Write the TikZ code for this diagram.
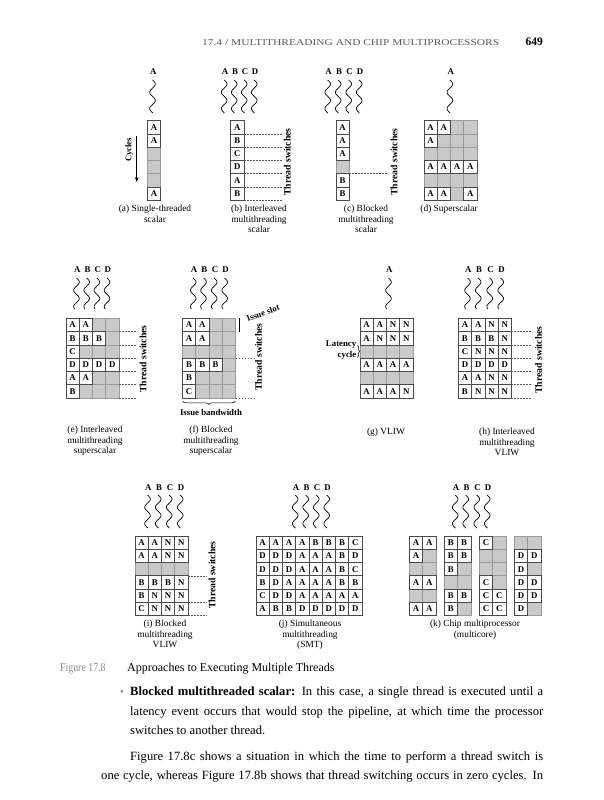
\documentclass[tikz,border=0pt]{standalone}
\usepackage{fontspec}
\usepackage{graphicx}
\setmainfont{Liberation Serif}
\usetikzlibrary{decorations.pathreplacing,arrows.meta}
\definecolor{cellgray}{HTML}{C9C9C9}
\definecolor{gline}{HTML}{9B9B9B}
\definecolor{wline}{HTML}{4A4A4A}
\definecolor{headgray}{HTML}{5A5A5A}
\definecolor{figgray}{HTML}{8A8A8A}
\newcommand{\cellw}{13.25}
\tikzset{
  gcell/.style={fill=cellgray, draw=gline, line width=0.6pt},
  wcell/.style={fill=white, draw=wline, line width=0.6pt},
  cellt/.style={font=\fontsize{8.8}{9}\selectfont\bfseries, inner sep=0pt, anchor=center},
  thrl/.style={font=\fontsize{8.8}{9}\selectfont\bfseries, inner sep=0pt},
  wavy/.style={line width=0.7pt},
  dline/.style={draw=black!65, line width=0.5pt, dash pattern=on 1.6pt off 1.4pt},
  tsw/.style={font=\fontsize{9.7}{10}\selectfont\bfseries, rotate=90, inner sep=0pt},
  capt/.style={font=\fontsize{9.4}{10}\selectfont, inner sep=0pt, anchor=base},
  lbl/.style={font=\fontsize{8.8}{10}\selectfont\bfseries, inner sep=0pt},
  body/.style={font=\fontsize{12.6}{14}\selectfont, inner sep=0pt, anchor=base west},
}
\newcommand{\mygrid}[4]{%
  \foreach \rw [count=\ri] in {#4} {
    \foreach \cc [count=\ki] in \rw {
      \if\cc g
        \path[gcell] ({#2+(\ki-1)*\cellw},{#3+(\ri-1)*\cellw}) rectangle ++(\cellw,\cellw);
      \fi
    }
  }
  \foreach \rw [count=\ri] in {#4} {
    \foreach \cc [count=\ki] in \rw {
      \if\cc g\else
        \path[wcell] ({#2+(\ki-1)*\cellw},{#3+(\ri-1)*\cellw}) rectangle ++(\cellw,\cellw);
        \node[cellt] (#1-\ri-\ki) at ({#2+(\ki-0.5)*\cellw},{#3+(\ri-0.5)*\cellw}) {\cc};
      \fi
    }
  }
}
\newcommand{\thrd}[6]{% name, x, label y, letter, wave y, wave length
  \node[thrl] (#1) at (#2,#3) {#4};
  \draw[wavy] plot[variable=\t, domain=0:#6, samples=70, smooth] ({#2-0.8+2.8*sin(\t*22)},{#5+\t});
}
\begin{document}
\begin{tikzpicture}[x=1pt,y=-1pt]
\useasboundingbox (0,0) rectangle (604,800);
\fill[white] (0,0) rectangle (604,800);

% header
\node[anchor=base west, inner sep=0pt, text=headgray] (hdr) at (202,46)
  {\scalebox{1.27}[1]{\fontsize{9}{9}\selectfont 17.4 / MULTITHREADING AND CHIP MULTIPROCESSORS}};
\node[anchor=base east, inner sep=0pt, font=\fontsize{11.5}{12}\selectfont\bfseries] (pg) at (543,46) {649};

% ===== Row 1 =====
% (a)
\thrd{a-A}{153.3}{72}{A}{80}{33}
\mygrid{a}{147.4}{120.7}{{A},{A},{g},{g},{g},{A}}
\coordinate (cyc1) at (136.7,136);
\coordinate (cyc2) at (136.7,182);
\draw[line width=0.8pt, -{Stealth[length=5pt,width=3.6pt]}] (cyc1) -- (cyc2);
\node[tsw, font=\fontsize{8.6}{10}\selectfont\bfseries] (cycles) at (129.3,150) {Cycles};
\node[capt] (capa1) at (155,211.5) {(a) Single-threaded};
\node[capt] (capa2) at (155,222) {scalar};

% (b)
\thrd{b-A}{225}{72}{A}{80}{33}
\thrd{b-B}{235}{72}{B}{80}{33}
\thrd{b-C}{245}{72}{C}{80}{33}
\thrd{b-D}{255}{72}{D}{80}{33}
\mygrid{b}{230.7}{120.7}{{A},{B},{C},{D},{A},{B}}
\foreach \k in {1,...,6} \draw[dline] (244,{120.7+\k*\cellw}) -- (282,{120.7+\k*\cellw});
\node[tsw] (tsb) at (287.3,162) {Thread switches};
\node[capt] (capb1) at (259,211.5) {(b) Interleaved};
\node[capt] (capb2) at (259,222) {multithreading};
\node[capt] (capb3) at (259,232.5) {scalar};

% (c)
\thrd{c-A}{328.5}{72}{A}{80}{33}
\thrd{c-B}{339}{72}{B}{80}{33}
\thrd{c-C}{349.5}{72}{C}{80}{33}
\thrd{c-D}{360}{72}{D}{80}{33}
\mygrid{c}{336}{120.7}{{A},{A},{A},{g},{B},{B}}
\draw[dline] (349.3,{120.7+4*\cellw}) -- (387,{120.7+4*\cellw});
\node[tsw] (tsc) at (394,162) {Thread switches};
\node[capt] (capc1) at (366,211.5) {(c) Blocked};
\node[capt] (capc2) at (366,222) {multithreading};
\node[capt] (capc3) at (366,232.5) {scalar};

% (d)
\thrd{d-A}{450.7}{72}{A}{80}{33}
\mygrid{d}{424}{120.7}{{A,A,g,g},{A,g,g,g},{g,g,g,g},{A,A,A,A},{g,g,g,g},{A,A,g,A}}
\node[capt] (capd1) at (449,211.5) {(d) Superscalar};

% ===== Row 2 =====
% (e)
\thrd{e-A}{77.3}{270}{A}{278}{31}
\thrd{e-B}{87.5}{270}{B}{278}{31}
\thrd{e-C}{97.7}{270}{C}{278}{31}
\thrd{e-D}{107.8}{270}{D}{278}{31}
\mygrid{e}{66}{318.3}{{A,A,g,g},{B,B,B,g},{C,g,g,g},{D,D,D,D},{A,A,g,g},{B,g,g,g}}
\foreach \k in {1,...,6} \draw[dline] (119,{318.3+\k*\cellw}) -- (137,{318.3+\k*\cellw});
\node[tsw] (tse) at (143,359) {Thread switches};
\node[capt] (cape1) at (95,432.5) {(e) Interleaved};
\node[capt] (cape2) at (95,443) {multithreading};
\node[capt] (cape3) at (95,453.5) {superscalar};

% (f)
\thrd{f-A}{194}{270}{A}{278}{31}
\thrd{f-B}{204.3}{270}{B}{278}{31}
\thrd{f-C}{215}{270}{C}{278}{31}
\thrd{f-D}{225.5}{270}{D}{278}{31}
\mygrid{f}{182.5}{318.3}{{A,A,g,g},{A,A,g,g},{g,g,g,g},{B,B,B,g},{B,g,g,g},{C,g,g,g}}
\foreach \k in {3,6} \draw[dline] (235.5,{318.3+\k*\cellw}) -- (254,{318.3+\k*\cellw});
\node[tsw] (tsf) at (258.5,357) {Thread switches};
\coordinate (slot1) at (239.5,317.5);
\coordinate (slot2) at (239.5,331.5);
\draw[line width=0.5pt] (slot1) -- (slot2);
\node[lbl, rotate=20] (islot) at (263,313) {Issue slot};
\coordinate (bw1) at (235.5,401);
\coordinate (bw2) at (182.5,401);
\draw[line width=0.5pt, decorate, decoration={brace, amplitude=3.5pt}] (bw1) -- (bw2);
\node[lbl, anchor=base] (ibw) at (211,415) {Issue bandwidth};
\node[capt] (capf1) at (211,432.5) {(f) Blocked};
\node[capt] (capf2) at (211,443) {multithreading};
\node[capt] (capf3) at (211,453.5) {superscalar};

% (g)
\thrd{g-A}{389.3}{270}{A}{278}{31}
\mygrid{g}{360}{318.3}{{A,A,N,N},{A,N,N,N},{g,g,g,g},{A,A,A,A},{g,g,g,g},{A,A,A,N}}
\node[lbl, anchor=east] (lat1) at (356.5,345) {Latency};
\node[lbl, anchor=east] (lat2) at (356.5,355.5) {cycle};
\coordinate (lb1) at (357.5,345);
\coordinate (lb2) at (357.5,357.5);
\draw[line width=0.5pt, decorate, decoration={brace, amplitude=2pt}] (lb1) -- (lb2);
\node[capt] (capg1) at (386,434.5) {(g) VLIW};

% (h)
\thrd{h-A}{468.3}{270}{A}{278}{31}
\thrd{h-B}{479}{270}{B}{278}{31}
\thrd{h-C}{490.5}{270}{C}{278}{31}
\thrd{h-D}{501.5}{270}{D}{278}{31}
\mygrid{h}{458.3}{318.3}{{A,A,N,N},{B,B,B,N},{C,N,N,N},{D,D,D,D},{A,A,N,N},{B,N,N,N}}
\foreach \k in {1,...,6} \draw[dline] (511.3,{318.3+\k*\cellw}) -- (531,{318.3+\k*\cellw});
\node[tsw] (tsh) at (538.5,360) {Thread switches};
\node[capt] (caph1) at (507,434.5) {(h) Interleaved};
\node[capt] (caph2) at (507,445) {multithreading};
\node[capt] (caph3) at (507,455.5) {VLIW};

% ===== Row 3 =====
% (i)
\thrd{i-A}{148.3}{487.5}{A}{495}{33}
\thrd{i-B}{159}{487.5}{B}{495}{33}
\thrd{i-C}{170}{487.5}{C}{495}{33}
\thrd{i-D}{181}{487.5}{D}{495}{33}
\mygrid{i}{135}{536}{{A,A,N,N},{A,A,N,N},{g,g,g,g},{B,B,B,N},{B,N,N,N},{C,N,N,N}}
\foreach \k in {3,5,6} \draw[dline] (188,{536+\k*\cellw}) -- (207,{536+\k*\cellw});
\node[tsw] (tsi) at (212,575) {Thread switches};
\node[capt] (capi1) at (165,626.5) {(i) Blocked};
\node[capt] (capi2) at (165,637) {multithreading};
\node[capt] (capi3) at (165,647.5) {VLIW};

% (j)
\thrd{j-A}{296}{487.5}{A}{495}{33}
\thrd{j-B}{306.5}{487.5}{B}{495}{33}
\thrd{j-C}{317}{487.5}{C}{495}{33}
\thrd{j-D}{327.5}{487.5}{D}{495}{33}
\mygrid{j}{256}{536}{{A,A,A,A,B,B,B,C},{D,D,D,A,A,A,B,D},{D,D,D,A,A,A,B,C},{B,D,A,A,A,A,B,B},{C,D,D,A,A,A,A,A},{A,B,B,D,D,D,D,D}}
\node[capt] (capj1) at (310,626.5) {(j) Simultaneous};
\node[capt] (capj2) at (310,637) {multithreading};
\node[capt] (capj3) at (310,647.5) {(SMT)};

% (k)
\thrd{k-A}{456}{487.5}{A}{495}{33}
\thrd{k-B}{466.5}{487.5}{B}{495}{33}
\thrd{k-C}{477.5}{487.5}{C}{495}{33}
\thrd{k-D}{488}{487.5}{D}{495}{33}
\mygrid{k1}{409.3}{536}{{A,A},{A,g},{g,g},{A,A},{g,g},{A,A}}
\mygrid{k2}{444.3}{536}{{B,B},{B,B},{B,g},{g,g},{B,B},{B,g}}
\mygrid{k3}{479.3}{536}{{C,g},{g,g},{g,g},{C,g},{C,C},{C,C}}
\mygrid{k4}{514.3}{536}{{g,g},{D,D},{D,g},{D,D},{D,D},{D,g}}
\node[capt] (capk1) at (475,626.5) {(k) Chip multiprocessor};
\node[capt] (capk2) at (475,637) {(multicore)};

% figure caption
\node[body, text=figgray] (fign) at (60,671) {\scalebox{0.82}[1]{\fontsize{12}{13}\selectfont Figure 17.8}};
\node[body, font=\fontsize{12}{13}\selectfont] (figt) at (127,671) {Approaches to Executing Multiple Threads};

% body text
\node[anchor=base, inner sep=0pt, text=figgray, font=\fontsize{11}{13}\selectfont] (bul) at (122,695) {•};
\node[body] (l1) at (130,695) {\makebox[413pt][s]{\textbf{Blocked multithreaded scalar:} In this case, a single thread is executed until a}};
\node[body] (l2) at (130,715) {\makebox[413pt][s]{latency event occurs that would stop the pipeline, at which time the processor}};
\node[body] (l3) at (130,734) {switches to another thread.};
\node[body] (l4) at (130,760) {\makebox[413pt][s]{Figure 17.8c shows a situation in which the time to perform a thread switch is}};
\node[body] (l5) at (101,779) {\makebox[442pt][s]{one cycle, whereas Figure 17.8b shows that thread switching occurs in zero cycles. In}};
\end{tikzpicture}
\end{document}
